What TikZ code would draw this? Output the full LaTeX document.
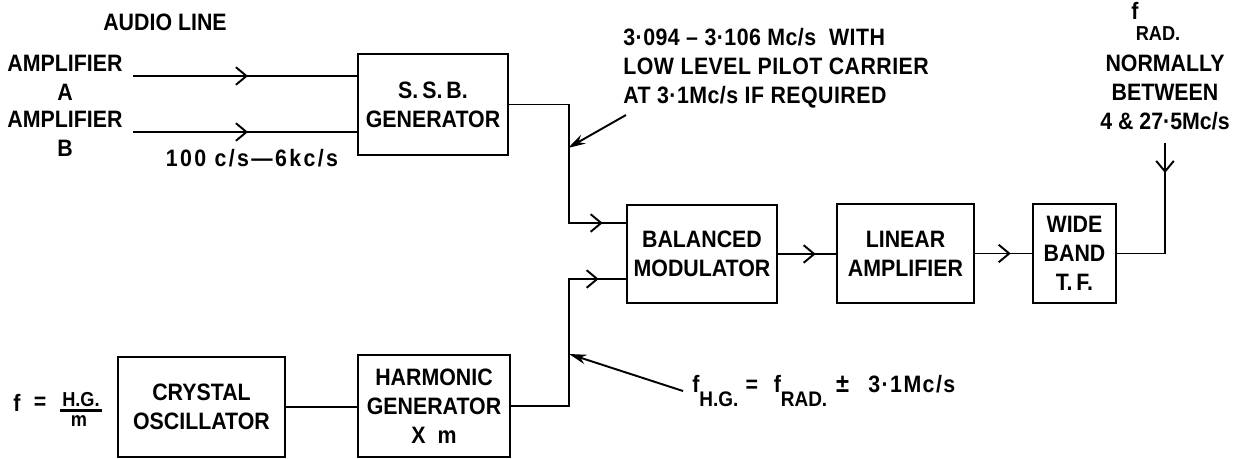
\documentclass[tikz,border=0pt]{standalone}
\usepackage{fontspec}
\setmainfont{Liberation Sans}[FakeStretch=0.9]
\usetikzlibrary{arrows.meta,decorations.markings}
\begin{document}
\begin{tikzpicture}[x=0.02cm,y=-0.02cm,
  lbl/.style={font=\bfseries\fontsize{13.5}{16.5}\selectfont, inner sep=0pt, align=center},
  sub/.style={font=\bfseries\fontsize{11.5}{12}\selectfont, inner sep=0pt},
  blk/.style={draw, line width=1.5pt, lbl, anchor=center},
  wire/.style={line width=1.1pt},
  chev/.style={wire, postaction={decorate}, decoration={markings,
      mark=at position #1 with {\arrow{Straight Barb[length=6pt,width=10pt]}}}},
  ptr/.style={line width=1.1pt, -{Stealth[length=10pt,width=5.5pt]}}
]
\useasboundingbox (0,0) rectangle (1254,459);

% blocks
\node[blk, minimum width=3.0cm,  minimum height=2.02cm] (ssb)  at (433,104.5) {S.\,S.\,B.\\GENERATOR};
\node[blk, minimum width=3.0cm,  minimum height=1.96cm] (bm)   at (702,254)   {BALANCED\\MODULATOR};
\node[blk, minimum width=2.74cm, minimum height=1.98cm] (la)   at (905.5,253.5) {LINEAR\\AMPLIFIER};
\node[blk, minimum width=1.66cm, minimum height=1.98cm] (wb)   at (1074.5,253.5) {WIDE\\BAND\\T.\,F.};
\node[blk, minimum width=3.34cm, minimum height=2.0cm]  (xtal) at (201.5,407)  {CRYSTAL\\OSCILLATOR};
\node[blk, minimum width=3.04cm, minimum height=2.04cm] (hg)   at (434,406)    {HARMONIC\\GENERATOR\\X\ \ m};

% labels
\node[lbl] (audio) at (165,22) {AUDIO LINE};
\node[lbl] (ampA) at (65,78) {AMPLIFIER\\A};
\node[lbl] (ampB) at (65,134) {AMPLIFIER\\B};
\node[lbl, font=\bfseries\fontsize{13.5}{16.5}\selectfont\addfontfeature{LetterSpace=10}] (band) at (252,158) {100 c/s—6kc/s};
\node[lbl, align=left, anchor=west, font=\bfseries\fontsize{13.5}{16.5}\selectfont\addfontfeature{LetterSpace=2}] (pilot) at (623,68)
  {3·094 – 3·106 Mc/s\ \ WITH\\LOW LEVEL PILOT CARRIER\\AT 3·1Mc/s IF REQUIRED};
\node[lbl, anchor=base] (fr) at (1135,20) {f};
\node[sub] (frsub) at (1158,34) {RAD.};
\node[lbl] (normally) at (1165,92) {NORMALLY\\BETWEEN\\4 \& 27·5Mc/s};
\node[lbl, anchor=base west] (fhg) at (692,392)
  {f\raisebox{-8pt}{\fontsize{12}{12}\selectfont H.G.}\hspace{4pt}=\hspace{9pt}f\raisebox{-8pt}{\fontsize{12}{12}\selectfont RAD.}\hspace{5pt}{\fontsize{15}{15}\selectfont ±}\hspace{11pt}{\addfontfeature{LetterSpace=6}3·1Mc/s}};
\node[lbl, anchor=base] (fx) at (17,411) {f};
\node[lbl] (eqx) at (40,403) {=};
\node[sub, anchor=base] (num) at (81,406) {H.G.};
\node[sub, anchor=base] (den) at (79,426) {m};
\draw[line width=1.4pt] ([xshift=-1pt,yshift=-0.08cm]num.south west) -- ([xshift=1pt,yshift=-0.08cm]num.south east);

% connectors
\coordinate (inA) at (133,76);
\coordinate (inB) at (133,132);
\draw[chev=2.3cm] (inA) -- (inA -| ssb.west);
\draw[chev=2.3cm] (inB) -- (inB -| ssb.west);
\draw[chev=-0.46cm] (ssb.east) -- ++(60,0) |- ([yshift=0.62cm]bm.west);
\draw[chev=-0.54cm] (hg.east) -- ++(58,0) |- ([yshift=-0.5cm]bm.west);
\draw[chev=-0.4cm] (bm.east) -- (bm.east -| la.west);
\draw[chev=-0.42cm] (la.east) -- (la.east -| wb.west);
\coordinate (radtop) at (1165,143);
\draw[chev=0.6cm] (radtop) -- (radtop |- wb.east) -- (wb.east);
\draw[wire] (xtal.east) -- (xtal.east -| hg.west);

% pointers
\coordinate (ptail) at (626,115);
\coordinate (ptip) at (568,148);
\draw[ptr] (ptail) -- (ptip);
\coordinate (htail) at (683,391);
\coordinate (htip) at (569,354);
\draw[ptr] (htail) -- (htip);
\end{tikzpicture}
\end{document}
